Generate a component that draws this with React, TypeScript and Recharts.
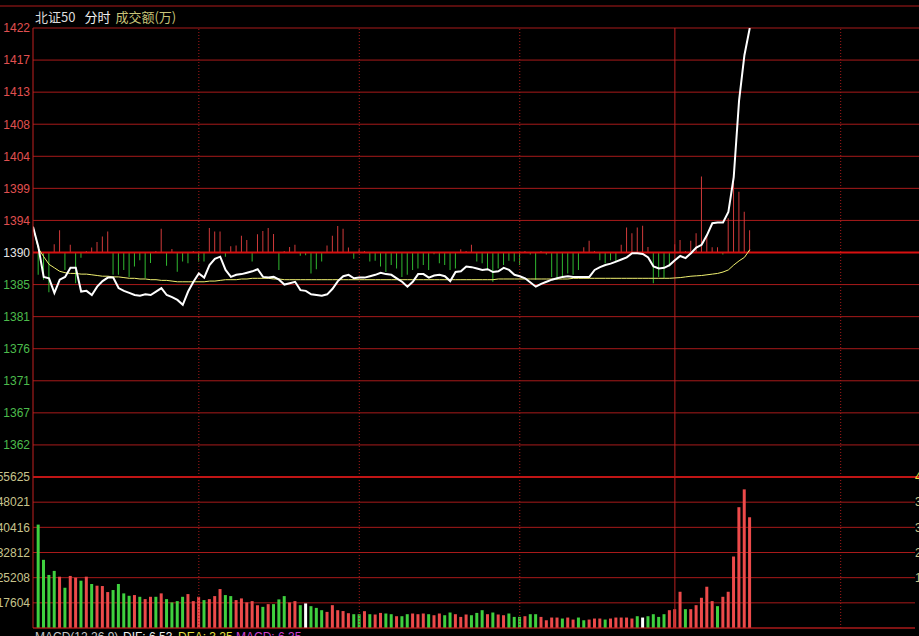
import React from "react";
import {
  ComposedChart,
  Bar,
  Line,
  XAxis,
  YAxis,
  CartesianGrid,
  ReferenceLine,
  Cell,
} from "recharts";

// minute index: 0 = open, one point per minute
const prices = [
  1393.4, 1390.5, 1386.2, 1386.0, 1383.9, 1385.8, 1386.2, 1387.5, 1387.5, 1384.1,
  1384.2, 1383.6, 1384.8, 1385.6, 1386.1, 1386.1, 1384.6, 1384.2, 1383.9, 1383.6,
  1383.5, 1383.7, 1383.6, 1384.1, 1384.6, 1383.6, 1383.3, 1382.9, 1382.2, 1384.1,
  1385.5, 1386.7, 1386.1, 1387.9, 1388.8, 1389.1, 1387.2, 1386.2, 1386.5, 1386.6,
  1386.8, 1387.0, 1387.3, 1386.2, 1386.1, 1386.2, 1385.8, 1385.1, 1385.3, 1385.5,
  1384.3, 1384.2, 1383.7, 1383.6, 1383.5, 1383.7, 1384.5, 1385.6, 1386.3, 1386.5,
  1386.0, 1386.1, 1386.1, 1386.3, 1386.5, 1386.8, 1386.6, 1386.5, 1386.0, 1385.5,
  1384.8, 1385.5, 1386.6, 1386.6, 1386.1, 1386.4, 1386.5, 1386.3, 1385.6, 1386.9,
  1387.0, 1387.7, 1387.6, 1387.4, 1387.2, 1387.3, 1386.9, 1387.0, 1387.5, 1387.2,
  1386.5, 1386.3, 1386.0, 1385.4, 1384.8, 1385.2, 1385.5, 1385.8, 1386.0, 1386.2,
  1386.3, 1386.2, 1386.2, 1386.2, 1386.2, 1387.2, 1387.6, 1387.9, 1388.1, 1388.4,
  1388.7, 1389.0, 1389.6, 1389.6, 1389.5, 1389.0, 1387.7, 1387.4, 1387.5, 1387.9,
  1388.6, 1389.2, 1388.9, 1389.6, 1390.4, 1390.8, 1392.2, 1393.9, 1394.0, 1394.0,
  1395.5, 1400.5, 1411.5, 1418.0, 1421.9,
];

const avgPrices = [
  1393.4, 1390.3, 1389.1, 1388.0, 1387.5, 1387.0, 1386.8, 1386.7, 1386.7, 1386.6,
  1386.6, 1386.5, 1386.4, 1386.3, 1386.3, 1386.2, 1386.2, 1386.1, 1386.0, 1386.0,
  1385.9, 1385.9, 1385.8, 1385.8, 1385.7, 1385.7, 1385.6, 1385.5, 1385.5, 1385.5,
  1385.5, 1385.5, 1385.5, 1385.6, 1385.6, 1385.7, 1385.8, 1385.8, 1385.8, 1385.9,
  1385.9, 1386.0, 1386.0, 1386.0, 1386.0, 1385.9, 1385.9, 1385.8, 1385.8, 1385.8,
  1385.8, 1385.8, 1385.8, 1385.8, 1385.8, 1385.8, 1385.8, 1385.8, 1385.8, 1385.8,
  1385.8, 1385.8, 1385.8, 1385.8, 1385.8, 1385.8, 1385.8, 1385.8, 1385.8, 1385.8,
  1385.8, 1385.8, 1385.8, 1385.8, 1385.8, 1385.8, 1385.8, 1385.8, 1385.8, 1385.8,
  1385.8, 1385.8, 1385.8, 1385.8, 1385.8, 1385.8, 1385.8, 1385.9, 1385.9, 1385.9,
  1385.9, 1385.9, 1385.9, 1385.9, 1385.9, 1385.9, 1385.9, 1385.9, 1385.9, 1385.9,
  1385.9, 1386.0, 1386.0, 1386.0, 1386.0, 1386.0, 1386.0, 1386.0, 1386.0, 1386.0,
  1386.0, 1386.0, 1386.0, 1386.0, 1386.0, 1386.0, 1386.0, 1386.0, 1386.0, 1386.0,
  1386.05, 1386.1, 1386.2, 1386.3, 1386.35, 1386.4, 1386.5, 1386.6, 1386.7, 1386.9,
  1387.2, 1387.9, 1388.5, 1389.0, 1390.1,
];

// buy/sell strength columns around the previous close (price units)
const strength = [
  0, -3.2, -3.9, -5.7, 1.2, 3.2, -2.5, 1.1, -4.4, -0.75,
  0.2, 0.7, 1.5, 2.3, 3.0, -3.2, -3.2, -2.5, -3.5, -2.0,
  -1.1, -3.7, -1.5, 0.2, 3.4, -1.9, 0.5, -2.75, -1.3, -1.55,
  0.2, -1.3, -1.3, 3.5, 3.0, 3.0, -0.6, 0.9, 1.0, 2.4,
  1.8, -1.3, 2.6, 3.1, 3.5, 2.65, -2.5, 0.2, 0.8, 1.1,
  -0.45, -0.4, -3.0, -2.4, -1.3, 1.0, 2.4, 3.8, 3.4, 0.7,
  -0.9, 0.45, 0.2, -1.3, -1.2, -2.0, -2.8, -1.8, -2.3, -3.5,
  -3.2, -2.5, -2.3, -1.8, -2.5, -0.25, -1.55, -1.8, -2.5, -2.3,
  0.45, 0.2, 1.1, -1.3, -1.55, -2.5, -4.2, -2.3, -1.8, -1.2,
  -1.3, -1.8, 0.2, -0.3, -3.9, 0.2, -0.3, -3.5, -3.9, -3.5,
  -3.0, -3.2, -2.5, 0.75, 1.7, 0.2, -1.1, -1.55, -1.1, -1.3,
  1.1, 3.6, 2.75, 3.6, 3.85, 0.8, -4.4, -3.5, -3.7, -2.0,
  1.2, 1.8, 0.2, 1.7, 2.75, 10.9, 2.5, 0.75, 0.75, -0.3,
  4.9, 10.0, 8.7, 5.85, 3.2,
];

// turnover per minute (万), minutes 1..134
const volumes = [
  41240, 30600, 26030, 27250, 25500, 22170, 25730, 25210, 24300, 25510,
  23290, 22780, 22680, 20860, 21470, 23290, 20460, 19730, 19950, 19430,
  18730, 19430, 19430, 20460, 18730, 17730, 18120, 19430, 20250, 18120,
  19430, 18430, 18730, 19640, 21770, 19950, 19640, 18430, 18940, 17730,
  18120, 16900, 16390, 17210, 17210, 18640, 19640, 17730, 18120, 16900,
  17420, 16600, 16080, 15380, 14870, 16900, 15380, 15120, 14470, 14170,
  14170, 15080, 14170, 14080, 14560, 14380, 14170, 13560, 13560, 14170,
  14380, 14170, 14380, 14170, 13860, 14380, 13860, 14680, 14170, 13350,
  14080, 13860, 14560, 15380, 14170, 14680, 14080, 13860, 14380, 13350,
  13350, 13560, 14170, 14170, 13350, 12340, 13160, 13160, 12860, 13160,
  12550, 13160, 12340, 12550, 12860, 12860, 12550, 12860, 13160, 13160,
  13160, 12860, 13560, 13160, 13560, 14170, 13350, 14170, 15380, 15690,
  20950, 15690, 15690, 16900, 19130, 22470, 18120, 16600, 19430, 20950,
  31600, 46500, 51890, 43460,
];

// r = up, g = down, w = unchanged
const volDirs = (
  "ggggrgrrgr" + "grrrggggrg" + "rrgrggggrr" + "rgrrrggrrr" + "rrgrgggrrg" +
  "wgggrrrrrg" + "grgrrggrgg" + "rrrgrrggrr" + "rgggrgrrgg" + "grggrrrrgr" +
  "rggrrrgrrr" + "rrgwggggrr" + "rgrrrrrgrr" + "rrrr"
).split("");

const PREV_CLOSE = 1389.7;
const priceTicks = [
  1362.1, 1366.7, 1371.3, 1375.9, 1380.5, 1385.1, 1389.7,
  1394.3, 1398.9, 1403.5, 1408.1, 1412.7, 1417.3, 1421.9,
];
const priceDomain = [1357.5, 1421.9];
const volTicks = [17604, 25208, 32812, 40416, 48021, 55625];
const volDomain = [10000, 55625];
const volRightTicks = [25208, 32812, 40416, 48021, 55625];
const volRightLabels = ["15", "23", "30", "38", "45"];
const halfHourMinutes = [31, 61, 91, 151];
const breakMinute = 120;

const W = 919;
const AXIS_W = 33;
const PX_PER_MIN = 5.349;
const RIGHT_AXIS_W = 4;

const GRID = "#a81a1a";
const BASE_RED = "#d81010";
const FONT = "'Liberation Sans', Arial, sans-serif";
const CJK = "'Noto Sans CJK SC', sans-serif";

const priceData = prices.map((p, t) => ({
  t,
  price: p,
  avg: avgPrices[t],
  str:
    strength[t] >= 0
      ? [PREV_CLOSE, PREV_CLOSE + strength[t]]
      : [PREV_CLOSE + strength[t], PREV_CLOSE],
  up: strength[t] >= 0,
}));

const volData = volumes.map((v, i) => ({ t: i + 1, vol: v, dir: volDirs[i] }));

const volColor = { r: "#ec4a4a", g: "#3fd03f", w: "#ffffff" };

const PriceTick = (props: any) => {
  const { x, y, payload } = props;
  const v = payload.value;
  const fill =
    v > PREV_CLOSE + 0.05 ? "#e05050" : v < PREV_CLOSE - 0.05 ? "#4cbc4c" : "#e6e6e6";
  return (
    <text x={x} y={y} dy="0.36em" textAnchor="end" fill={fill} fontSize={12} fontFamily={FONT}>
      {Math.round(v)}
    </text>
  );
};

const VolTick = (props: any) => {
  const { x, y, payload } = props;
  return (
    <text x={x} y={y} dy="0.36em" textAnchor="end" fill="#c8c48c" fontSize={12} fontFamily={FONT}>
      {payload.value}
    </text>
  );
};

const VolRightTick = (props: any) => {
  const { x, y, payload } = props;
  const idx = volRightTicks.indexOf(payload.value);
  return (
    <text
      x={x}
      y={y}
      dy="0.36em"
      textAnchor="start"
      fill={idx === volRightTicks.length - 1 ? "#e8e040" : "#c8c48c"}
      fontSize={12}
      fontFamily={FONT}
    >
      {volRightLabels[idx]}
    </text>
  );
};

const vLines = (yAxisId?: string) => [
  ...halfHourMinutes.map((m) => (
    <ReferenceLine
      key={"d" + m}
      x={m}
      yAxisId={yAxisId}
      stroke={GRID}
      strokeDasharray="1 2"
    />
  )),
  <ReferenceLine key="brk" x={breakMinute} yAxisId={yAxisId} stroke="#b82020" />,
];

export default function App() {
  const priceMaxT = (W - AXIS_W) / PX_PER_MIN;
  const volMaxT = (W - AXIS_W - RIGHT_AXIS_W) / PX_PER_MIN;

  return (
    <div
      style={{
        position: "absolute",
        left: 0,
        top: 0,
        width: W,
        height: 636,
        background: "#000",
        overflow: "hidden",
      }}
    >
      <div style={{ position: "absolute", left: 0, top: 0 }}>
        <ComposedChart
          width={W}
          height={480}
          data={priceData}
          margin={{ top: 28, right: 0, bottom: 3, left: 0 }}
        >
          <CartesianGrid vertical={false} stroke={GRID} />
          <XAxis type="number" dataKey="t" domain={[0, priceMaxT]} hide allowDataOverflow />
          <YAxis
            type="number"
            domain={priceDomain}
            ticks={priceTicks}
            interval={0}
            width={AXIS_W}
            tickSize={0}
            tickMargin={3}
            tickLine={false}
            axisLine={{ stroke: "#c02020" }}
            tick={<PriceTick />}
            allowDataOverflow
          />
          {vLines()}
          <ReferenceLine y={PREV_CLOSE} stroke={BASE_RED} strokeWidth={2} />
          <ReferenceLine y={priceDomain[0]} stroke={BASE_RED} strokeWidth={2} />
          <Bar dataKey="str" barSize={1} isAnimationActive={false}>
            {priceData.map((d, i) => (
              <Cell key={i} fill={d.up ? "#d03a3a" : "#30b830"} />
            ))}
          </Bar>
          <Line
            dataKey="avg"
            stroke="#f0f070"
            strokeWidth={1}
            dot={false}
            isAnimationActive={false}
          />
          <Line
            dataKey="price"
            stroke="#ffffff"
            strokeWidth={2}
            dot={false}
            isAnimationActive={false}
          />
        </ComposedChart>
      </div>

      <div style={{ position: "absolute", left: 0, top: 470 }}>
        <ComposedChart
          width={W}
          height={166}
          data={volData}
          margin={{ top: 7, right: 0, bottom: 8, left: 0 }}
        >
          <CartesianGrid vertical={false} stroke={GRID} yAxisId="l" />
          <XAxis type="number" dataKey="t" domain={[0, volMaxT]} hide allowDataOverflow />
          <YAxis
            yAxisId="l"
            type="number"
            domain={volDomain}
            ticks={volTicks}
            interval={0}
            width={AXIS_W}
            tickSize={0}
            tickMargin={3}
            tickLine={false}
            axisLine={{ stroke: "#c02020" }}
            tick={<VolTick />}
            allowDataOverflow
          />
          <YAxis
            yAxisId="r"
            orientation="right"
            type="number"
            domain={volDomain}
            ticks={volRightTicks}
            interval={0}
            width={RIGHT_AXIS_W}
            tickSize={0}
            tickMargin={0}
            tickLine={false}
            axisLine={false}
            tick={<VolRightTick />}
            allowDataOverflow
          />
          {vLines("l")}
          <ReferenceLine yAxisId="l" y={volDomain[0]} stroke={GRID} />
          <Bar yAxisId="l" dataKey="vol" barSize={3} isAnimationActive={false}>
            {volData.map((d, i) => (
              <Cell key={i} fill={volColor[d.dir]} />
            ))}
          </Bar>
        </ComposedChart>
      </div>

      <svg
        width={W}
        height={636}
        style={{ position: "absolute", left: 0, top: 0, pointerEvents: "none" }}
      >
        <line x1={0} x2={W} y1={6} y2={6} stroke="#b01a1a" strokeWidth={1} />
        <text x={35} y={22} fontSize={13} fontFamily={CJK}>
          <tspan fill="#dcdcdc">北证50</tspan>
          <tspan fill="#f0f0f0" dx={9}>分时</tspan>
          <tspan fill="#c8c478" dx={5}>成交额(万)</tspan>
        </text>
        <text y={641} fontSize={12} fontFamily={FONT}>
          <tspan x={35} fill="#c8c8c8">MACD(12,26,9)</tspan>
          <tspan x={123} fill="#f0f0f0">DIF: 6.53</tspan>
          <tspan x={178} fill="#e8e040">DEA: 3.25</tspan>
          <tspan x={236} fill="#d040d0">MACD: 6.35</tspan>
        </text>
      </svg>
    </div>
  );
}
